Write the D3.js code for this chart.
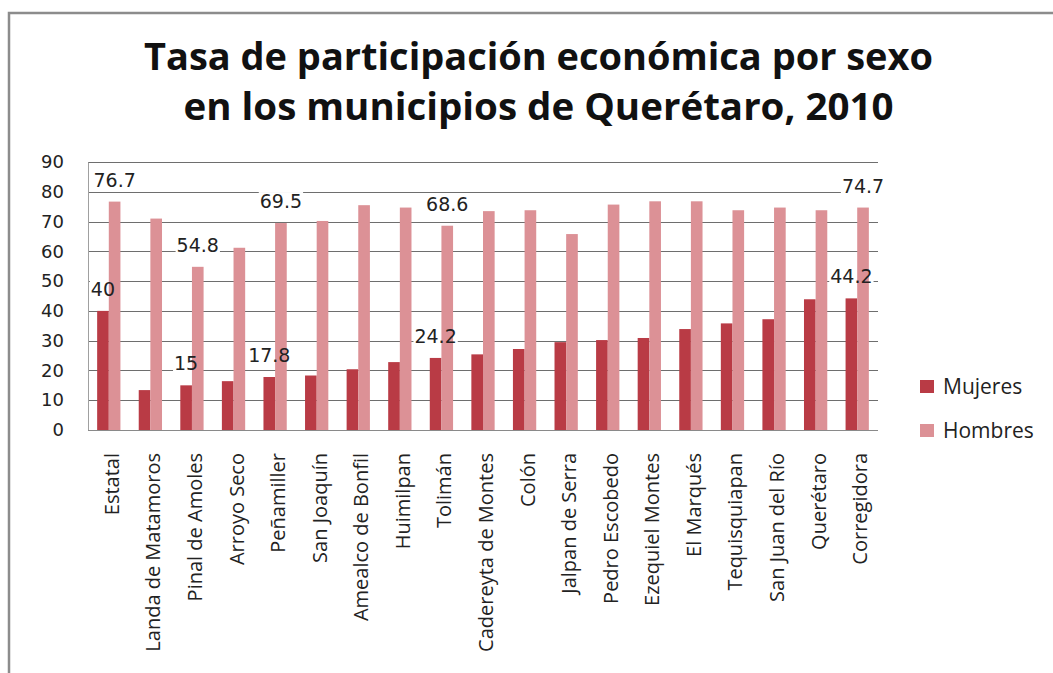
<!DOCTYPE html>
<html>
<head>
<meta charset="utf-8">
<script src="https://cdn.jsdelivr.net/npm/d3@7"></script>
<style>
  html, body { margin: 0; padding: 0; background: #fff; }
  svg { display: block; }
</style>
</head>
<body>
<svg id="chart" width="1053" height="673"></svg>
<script>
const categories = ["Estatal", "Landa de Matamoros", "Pinal de Amoles", "Arroyo Seco", "Peñamiller",
  "San Joaquín", "Amealco de Bonfil", "Huimilpan", "Tolimán", "Cadereyta de Montes", "Colón",
  "Jalpan de Serra", "Pedro Escobedo", "Ezequiel Montes", "El Marqués", "Tequisquiapan",
  "San Juan del Río", "Querétaro", "Corregidora"];
const mujeres = [40, 13.4, 15, 16.4, 17.8, 18.3, 20.4, 22.8, 24.2, 25.4, 27.2, 29.5, 30.2, 30.9, 33.9, 35.8, 37.2, 43.9, 44.2];
const hombres = [76.7, 71.0, 54.8, 61.2, 69.5, 70.2, 75.5, 74.7, 68.6, 73.5, 73.8, 65.8, 75.7, 76.8, 76.8, 73.8, 74.7, 73.8, 74.7];
const seriesNames = ["Mujeres", "Hombres"];
const seriesColors = ["#b93b45", "#dc9196"];
const yTicks = [0, 10, 20, 30, 40, 50, 60, 70, 80, 90];
// categories whose values carry a data label
const labelled = ["Estatal", "Pinal de Amoles", "Peñamiller", "Tolimán", "Corregidora"];
const titleLines = ["Tasa de participación económica por sexo", "en los municipios de Querétaro, 2010"];

const svg = d3.select("#chart");

// outer frame
svg.append("path")
  .attr("d", "M9,673 L9,13 L1053,13")
  .attr("fill", "none").attr("stroke", "#8c8c8c").attr("stroke-width", 2.5);

// title
const titleBox = [789, 710];
svg.selectAll("text.title").data(titleLines).join("text")
  .attr("class", "title")
  .attr("x", 538.5)
  .attr("y", (d, i) => 70 + i * 50)
  .attr("text-anchor", "middle")
  .attr("font-family", "'Open Sans', sans-serif")
  .attr("font-weight", "bold")
  .attr("font-size", 37)
  .attr("fill", "#111")
  .attr("textLength", (d, i) => titleBox[i])
  .attr("lengthAdjust", "spacingAndGlyphs")
  .text(d => d);

const x = d3.scaleBand().domain(categories).range([88, 878]).paddingInner(0.44).paddingOuter(0.22);
const xs = d3.scaleBand().domain(seriesNames).range([0, x.bandwidth()]);
const y = d3.scaleLinear().domain([0, 90]).range([430, 162]);

// gridlines
svg.append("g").selectAll("line").data(yTicks.filter(t => t > 0)).join("line")
  .attr("x1", 88).attr("x2", 878)
  .attr("y1", d => Math.round(y(d)) + 0.5).attr("y2", d => Math.round(y(d)) + 0.5)
  .attr("stroke", "#6e6e6e").attr("stroke-width", 1);

// y axis
const yAxis = svg.append("g").attr("transform", "translate(88,0)")
  .call(d3.axisLeft(y).tickValues(yTicks).tickSize(0).tickPadding(24));
yAxis.select(".domain").attr("stroke", "#a0a0a0");
yAxis.selectAll("text").attr("font-family", "'DejaVu Sans', sans-serif").attr("font-size", 18).attr("fill", "#222");

const data = categories.map((c, i) => ({ c, vals: [mujeres[i], hombres[i]] }));

// label backgrounds (mask gridlines only), drawn under bars
const labBg = svg.append("g");
const barLayer = svg.append("g");
const lab = svg.append("g");

// bars
const groups = barLayer.selectAll("g").data(data).join("g")
  .attr("transform", d => `translate(${x(d.c)},0)`);
groups.selectAll("rect").data(d => d.vals.map((v, k) => ({ v, s: seriesNames[k], k })))
  .join("rect")
  .attr("x", d => xs(d.s))
  .attr("width", xs.bandwidth())
  .attr("y", d => y(d.v))
  .attr("height", d => y(0) - y(d.v))
  .attr("fill", d => seriesColors[d.k]);

// x axis baseline
svg.append("line").attr("x1", 88).attr("x2", 878).attr("y1", 430.5).attr("y2", 430.5)
  .attr("stroke", "#8a8a8a").attr("stroke-width", 1);

// data labels
data.filter(d => labelled.includes(d.c)).forEach(d => {
  d.vals.forEach((v, k) => {
    const cx = x(d.c) + xs(seriesNames[k]) + xs.bandwidth() / 2;
    const t = lab.append("text")
      .attr("x", cx).attr("y", y(v) - 15)
      .attr("text-anchor", "middle")
      .attr("font-family", "'DejaVu Sans', sans-serif")
      .attr("font-size", 19)
      .attr("fill", "#222")
      .text(v);
    const b = t.node().getBBox();
    labBg.append("rect")
      .attr("x", b.x - 1).attr("y", b.y + 2).attr("width", b.width + 2).attr("height", b.height - 4)
      .attr("fill", "#fff");
  });
});

// category labels
svg.append("g").selectAll("text").data(categories).join("text")
  .attr("transform", d => `translate(${x(d) + x.bandwidth() / 2 + 10},453) rotate(-90)`)
  .attr("text-anchor", "end")
  .attr("font-family", "'Open Sans', sans-serif")
  .attr("font-size", 20)
  .attr("fill", "#222")
  .text(d => d);

// legend
const leg = svg.append("g").selectAll("g").data(seriesNames).join("g")
  .attr("transform", (d, i) => `translate(920,${380 + i * 44})`);
leg.append("rect").attr("width", 14).attr("height", 13).attr("fill", (d, i) => seriesColors[i]);
leg.append("text").attr("x", 23).attr("y", 6.5).attr("dy", "0.35em")
  .attr("font-family", "'Open Sans', sans-serif").attr("font-size", 21).attr("fill", "#222")
  .text(d => d);
</script>
</body>
</html>
